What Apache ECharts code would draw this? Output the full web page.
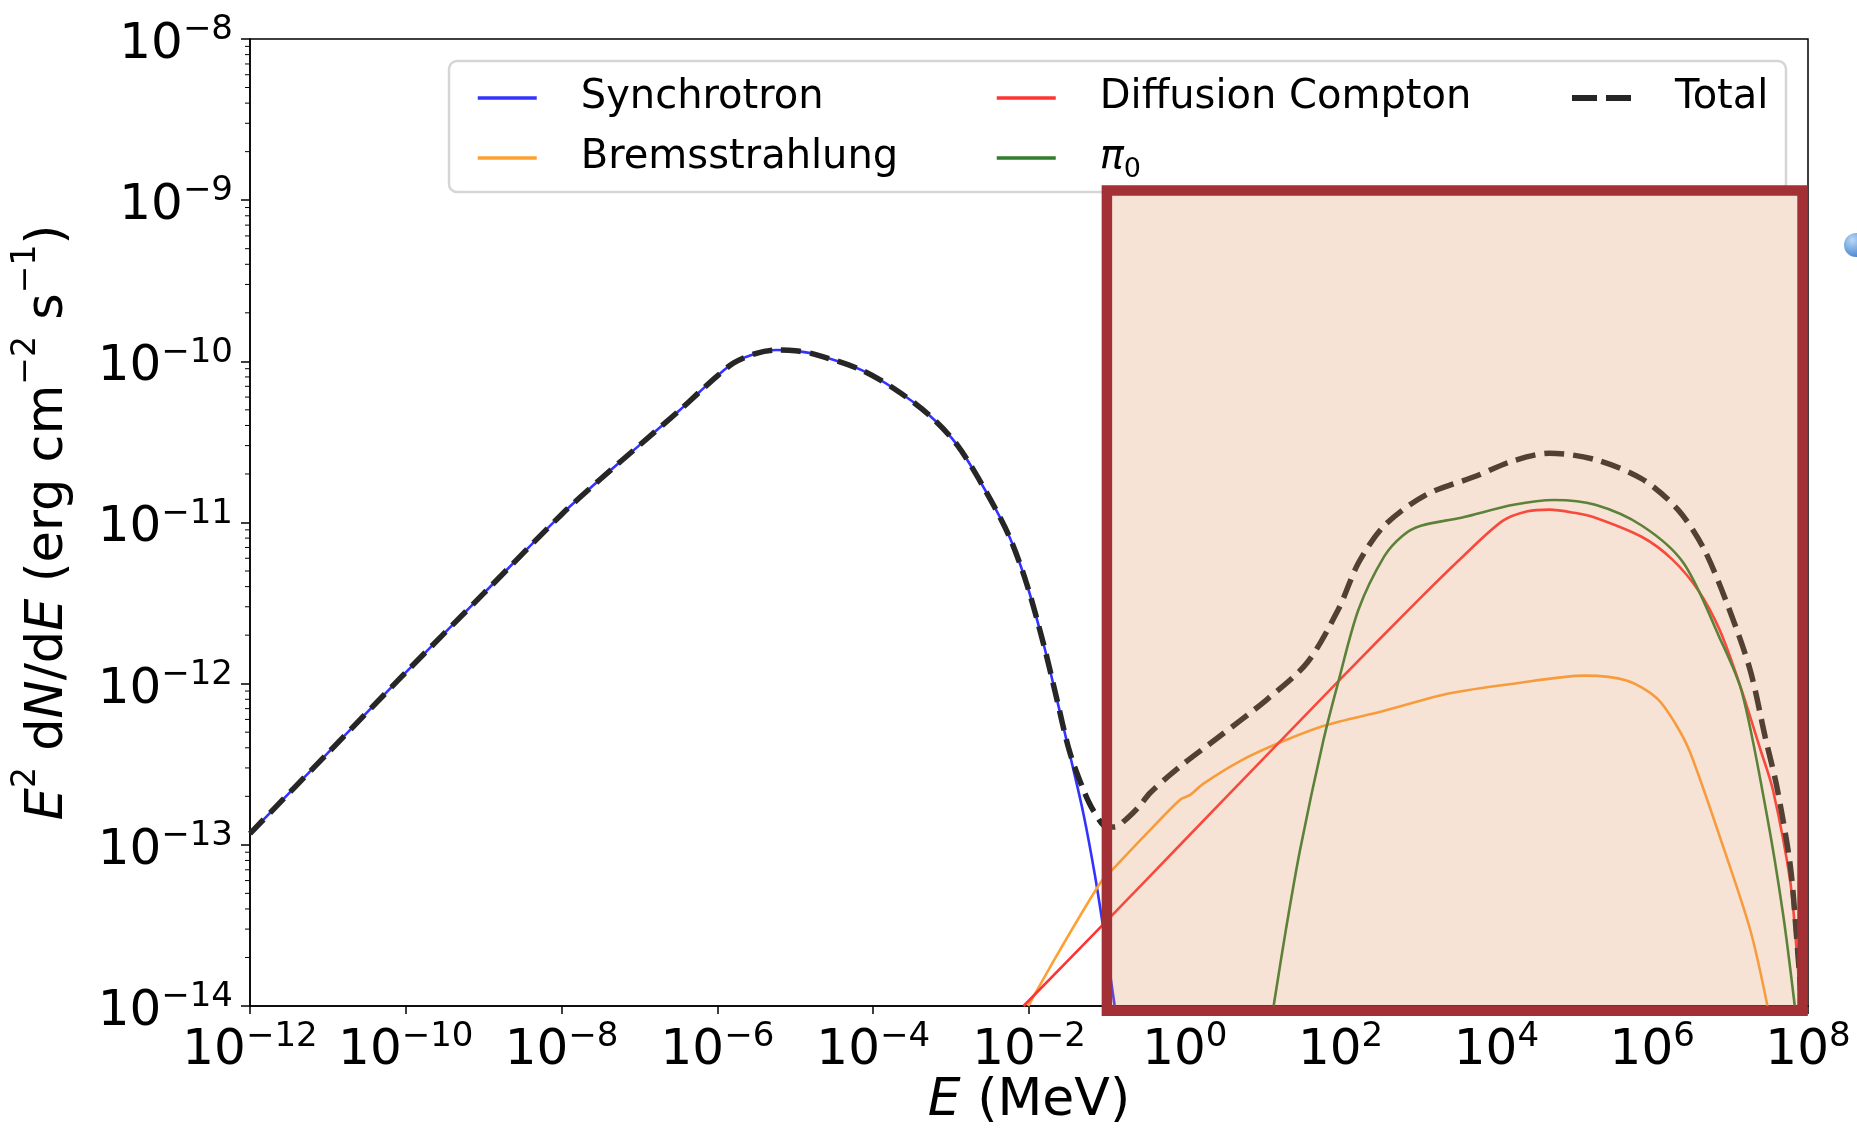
<!DOCTYPE html>
<html>
<head>
<meta charset="utf-8">
<script src="https://cdn.jsdelivr.net/npm/echarts@6/dist/echarts.min.js"></script>
<style>
html, body { margin: 0; padding: 0; background: #fff; }
#chart { width: 1857px; height: 1132px; }
</style>
</head>
<body>
<div id="chart"></div>
<script>
// values as [log10(E / MeV), log10(E^2 dN/dE)]
const synchrotron = [
  [-12, -12.93], [-11, -12.43], [-10, -11.93], [-9, -11.44], [-8, -10.95],
  [-7.5, -10.73], [-7, -10.52], [-6.5, -10.31], [-6.23, -10.19], [-6.0, -10.09],
  [-5.79, -10.01], [-5.5, -9.95], [-5.24, -9.93], [-5.0, -9.935], [-4.76, -9.955],
  [-4.17, -10.05], [-3.73, -10.17], [-3.29, -10.33], [-2.92, -10.52], [-2.55, -10.81],
  [-2.25, -11.09], [-2.03, -11.38], [-1.81, -11.76], [-1.66, -12.06], [-1.48, -12.43],
  [-1.3, -12.81], [-1.15, -13.2], [-1.02, -13.6], [-0.9, -14.0]
]
const bremsstrahlung = [
  [-2.01, -14.0], [-1.6, -13.65], [-1.09, -13.24], [-0.96, -13.17], [-0.45, -12.91],
  [-0.06, -12.72], [0.07, -12.69], [0.24, -12.62], [0.71, -12.48], [1.2, -12.37],
  [1.8, -12.26], [2.55, -12.17], [3.4, -12.06], [4.22, -12.0], [5.14, -11.95],
  [5.67, -11.98], [6.06, -12.09], [6.3, -12.25], [6.49, -12.43], [6.91, -13.01],
  [7.26, -13.53], [7.48, -14.0]
]
const compton = [
  [-2.07, -14.0], [-1, -13.47], [0, -12.97], [1, -12.47], [2, -11.97],
  [3, -11.48], [3.55, -11.22], [4.08, -10.99], [4.4, -10.93], [4.68, -10.92],
  [5.0, -10.94], [5.27, -10.97], [5.87, -11.09], [6.26, -11.23], [6.59, -11.42],
  [6.86, -11.66], [7.12, -12.0], [7.39, -12.41], [7.55, -12.66], [7.77, -13.22],
  [7.85, -13.63], [7.95, -14.3]
]
const pi0 = [
  [1.14, -14.0], [1.3, -13.52], [1.48, -13.03], [1.78, -12.35], [1.97, -11.99],
  [2.23, -11.54], [2.56, -11.21], [2.8, -11.08], [3.03, -11.02], [3.55, -10.97],
  [4.22, -10.89], [4.74, -10.86], [5.27, -10.89], [5.87, -11.02], [6.4, -11.25],
  [6.86, -11.71], [7.15, -12.05], [7.47, -12.81], [7.68, -13.43], [7.83, -14.0]
]
const total = [
  [-12, -12.93], [-11, -12.43], [-10, -11.93], [-9, -11.44], [-8, -10.95],
  [-7.5, -10.73], [-7, -10.52], [-6.5, -10.31], [-6.23, -10.19], [-6.0, -10.09],
  [-5.79, -10.01], [-5.5, -9.95], [-5.24, -9.93], [-5.0, -9.935], [-4.76, -9.955],
  [-4.17, -10.05], [-3.73, -10.17], [-3.29, -10.33], [-2.92, -10.52], [-2.55, -10.81],
  [-2.25, -11.09], [-2.03, -11.38], [-1.81, -11.76], [-1.66, -12.06], [-1.48, -12.42],
  [-1.3, -12.66], [-1.17, -12.79], [-1.0, -12.89], [-0.9, -12.89], [-0.75, -12.84],
  [-0.6, -12.77], [-0.45, -12.68], [-0.2, -12.57], [0.0, -12.49], [0.41, -12.34],
  [1.05, -12.1], [1.57, -11.87], [1.97, -11.54], [2.23, -11.25], [2.56, -11.02],
  [3.09, -10.83], [3.75, -10.71], [4.2, -10.62], [4.68, -10.57], [5.27, -10.61],
  [5.87, -10.73], [6.33, -10.92], [6.66, -11.16], [6.99, -11.54], [7.26, -11.92],
  [7.45, -12.33], [7.6, -12.64], [7.77, -13.12], [7.85, -13.55], [7.95, -14.2]
]
// minor ticks of the y axis (2..9 x 10^n)
const yMinorTicks = []
for (let n = -14; n < -8; n++) {
  for (let k = 2; k <= 9; k++) yMinorTicks.push(k * Math.pow(10, n))
}
// shaded box, in data units [log10 E, log10 flux]
const boxFrom = [-1.0, -8.94]
const boxTo = [7.93, -14.03]

const FONT = "DejaVu Sans"
const toPoints = arr => arr.map(p => [Math.pow(10, p[0]), Math.pow(10, p[1])])

function powLabel(v) {
  const e = Math.round(Math.log10(v))
  return "{b|10}{s|" + (e < 0 ? "−" + (-e) : e) + "}"
}
const tickRich = {
  b: { fontFamily: FONT, fontSize: 50, lineHeight: 63, color: "#000" },
  s: { fontFamily: FONT, fontSize: 34, lineHeight: 34, verticalAlign: "top", color: "#000" }
}

function lineSeries(name, data, color, width, type) {
  return {
    name: name,
    type: "line",
    data: toPoints(data),
    symbol: "none",
    smooth: 0.3,
    lineStyle: { color: color, width: width, type: type || "solid", cap: "butt" },
    itemStyle: { color: color },
    z: 3
  }
}

const legendText = {
  fontFamily: FONT,
  fontSize: 40,
  lineHeight: 50,
  color: "#000",
  padding: [0, 0, 0, 39],
  rich: {
    pi: { fontFamily: FONT, fontSize: 40, lineHeight: 50, fontStyle: "italic", color: "#000" },
    sub: { fontFamily: FONT, fontSize: 27, lineHeight: 27, verticalAlign: "bottom", color: "#000" }
  }
}
function legendAt(left, names, lineStyle) {
  return {
    data: names,
    orient: "vertical",
    left: left,
    top: 73,
    padding: 0,
    itemGap: 10,
    itemWidth: 59,
    itemHeight: 14,
    selectedMode: false,
    itemStyle: { opacity: 0 },
    lineStyle: lineStyle,
    textStyle: legendText,
    formatter: name => (name === "π0" ? "{pi|π}{sub|0}" : name)
  }
}

const chart = echarts.init(document.getElementById("chart"))

const option = {
  animation: false,
  backgroundColor: "#fff",
  grid: {
    left: 250,
    right: 49,
    top: 39,
    bottom: 126,
    outerBoundsMode: "none",
    containLabel: false,
    show: true,
    borderColor: "#000",
    borderWidth: 1.5,
    backgroundColor: "transparent"
  },
  legend: [
    legendAt(476, ["Synchrotron", "Bremsstrahlung"], { width: 3.5 }),
    legendAt(995, ["Diffusion Compton", "π0"], { width: 3.5 }),
    legendAt(1569, ["Total"], { width: 6, type: [25, 9] })
  ],
  xAxis: {
    type: "log",
    logBase: 10,
    min: 1e-12,
    max: 1e8,
    interval: 2,
    name: "{i|E} (MeV)",
    nameLocation: "middle",
    nameGap: 65,
    nameMoveOverlap: false,
    nameTextStyle: {
      fontFamily: FONT, fontSize: 52, lineHeight: 60, color: "#000",
      rich: { i: { fontFamily: FONT, fontSize: 52, lineHeight: 60, fontStyle: "italic", color: "#000" } }
    },
    axisLine: { lineStyle: { color: "#000", width: 1.5 } },
    axisTick: { interval: 0, length: 8, lineStyle: { color: "#000", width: 1.5 } },
    minorTick: { show: false },
    splitLine: { show: false },
    axisLabel: {
      interval: 0, margin: 14, formatter: powLabel, rich: tickRich,
      showMinLabel: true, showMaxLabel: true, hideOverlap: false
    }
  },
  yAxis: {
    type: "log",
    logBase: 10,
    min: 1e-14,
    max: 1e-8,
    interval: 1,
    name: "{i|E}{s|2} d{i|N}/d{i|E} (erg cm{s|−2} s{s|−1})",
    nameLocation: "middle",
    nameRotate: 90,
    nameGap: 163,
    nameMoveOverlap: false,
    nameTextStyle: {
      fontFamily: FONT, fontSize: 51, lineHeight: 77, color: "#000",
      rich: {
        i: { fontFamily: FONT, fontSize: 51, lineHeight: 77, fontStyle: "italic", color: "#000" },
        s: { fontFamily: FONT, fontSize: 33, lineHeight: 33, verticalAlign: "top", color: "#000" }
      }
    },
    axisLine: { lineStyle: { color: "#000", width: 1.5 } },
    axisTick: { interval: 0, length: 9, lineStyle: { color: "#000", width: 1.5 } },
    minorTick: { show: false },
    splitLine: { show: false },
    axisLabel: {
      interval: 0, margin: 17, padding: [12, 0, 0, 0], formatter: powLabel, rich: tickRich,
      showMinLabel: true, showMaxLabel: true
    }
  },
  series: [
    lineSeries("Synchrotron", synchrotron, "#3333ff", 2.6),
    lineSeries("Bremsstrahlung", bremsstrahlung, "#ffa033", 2.6),
    lineSeries("Diffusion Compton", compton, "#ff3333", 2.6),
    lineSeries("π0", pi0, "#307d2d", 2.6),
    Object.assign(lineSeries("Total", total, "#262626", 5.5, [20, 9]), { z: 4 }),
    {
      type: "custom",
      silent: true,
      clip: false,
      data: yMinorTicks.map(v => [1e-12, v]),
      renderItem: function (params, api) {
        const p = api.coord([api.value(0), api.value(1)])
        return {
          type: "line",
          shape: { x1: p[0] - 5, y1: p[1], x2: p[0], y2: p[1] },
          style: { stroke: "#000", lineWidth: 1 }
        }
      }
    }
  ]
}
chart.setOption(option)

// overlays placed through the axes
const a = chart.convertToPixel({ gridIndex: 0 }, [Math.pow(10, boxFrom[0]), Math.pow(10, boxFrom[1])])
const b = chart.convertToPixel({ gridIndex: 0 }, [Math.pow(10, boxTo[0]), Math.pow(10, boxTo[1])])

chart.setOption({
  graphic: [
    {
      type: "rect",
      z: 2,
      shape: { x: 449, y: 61, width: 1337, height: 131, r: 8 },
      style: { fill: "rgba(255,255,255,0.8)", stroke: "#d5d5d5", lineWidth: 2.5 }
    },
    {
      type: "rect",
      z: 100,
      silent: true,
      shape: { x: a[0], y: a[1], width: b[0] - a[0], height: b[1] - a[1] },
      style: { fill: "rgba(223,143,91,0.25)", stroke: "#a33035", lineWidth: 10.5 }
    },
    {
      type: "circle",
      z: 100,
      shape: { cx: 1856, cy: 245, r: 12 },
      style: {
        fill: new echarts.graphic.RadialGradient(0.35, 0.3, 0.8, [
          { offset: 0, color: "#b9d7f5" },
          { offset: 1, color: "#3d7fcf" }
        ])
      }
    }
  ]
})
</script>
</body>
</html>
